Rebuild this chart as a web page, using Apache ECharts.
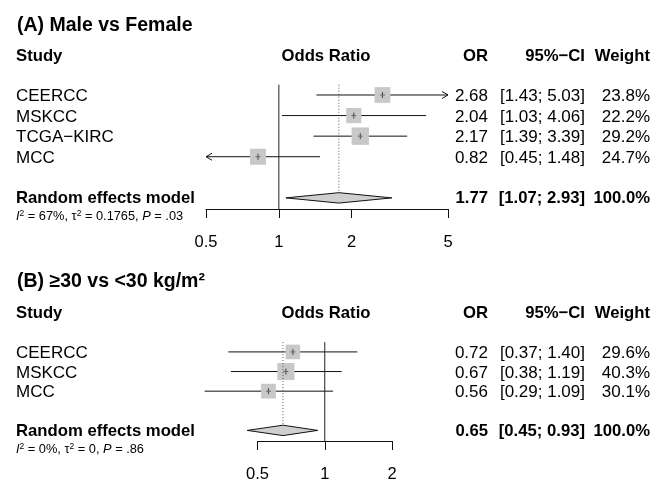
<!DOCTYPE html>
<html><head><meta charset="utf-8">
<script src="https://cdn.jsdelivr.net/npm/echarts@6/dist/echarts.min.js"></script>
<style>html,body{margin:0;padding:0;background:#fff}#c{width:656px;height:483px}</style>
</head><body><div id="c"></div>
<script>
// ---------- data ----------
const titleA = '(A) Male vs Female';
const studiesA = ['CEERCC', 'MSKCC', 'TCGA\u2212KIRC', 'MCC'];
const orA = [2.68, 2.04, 2.17, 0.82];
const lowA = [1.43, 1.03, 1.39, 0.45];
const highA = [5.03, 4.06, 3.39, 1.48];
const weightA = [23.8, 22.2, 29.2, 24.7];
const pooledA = [1.77, 1.07, 2.93];           // OR, lower, upper
const heteroA = ['67%', '0.1765', '.03'];      // I2, tau2, P
const ticksA = [0.5, 1, 2, 5];
const tickLabelsA = ['0.5', '1', '2', '5'];
const xlimA = [0.5, 5];

const titleB = '(B) \u226530 vs <30 kg/m\u00b2';
const studiesB = ['CEERCC', 'MSKCC', 'MCC'];
const orB = [0.72, 0.67, 0.56];
const lowB = [0.37, 0.38, 0.29];
const highB = [1.40, 1.19, 1.09];
const weightB = [29.6, 40.3, 30.1];
const pooledB = [0.65, 0.45, 0.93];
const heteroB = ['0%', '0', '.86'];
const ticksB = [0.5, 1, 2];
const tickLabelsB = ['0.5', '1', '2'];
const xlimB = [0.25, 2.5];

const headers = ['Study', 'Odds Ratio', 'OR', '95%\u2212CI', 'Weight'];
const pooledLabel = 'Random effects model';

// ---------- layout ----------
const FF = '"Liberation Sans", Arial, Helvetica, sans-serif';
const COL_STUDY = 16, COL_OR = 488, COL_CI = 585, COL_W = 650, COL_ODDS = 326;
const fmt2 = v => v.toFixed(2);

function txt(text, x, y, align, size, bold, extra) {
  return Object.assign({
    type: 'text',
    style: {
      text: text, x: x, y: y,
      align: align, textAlign: align,
      verticalAlign: 'middle', textVerticalAlign: 'middle',
      fontSize: size, fontFamily: FF, fontWeight: bold ? 'bold' : 'normal',
      fill: '#000'
    }
  }, extra || {});
}

function makePanel(gi, P) {
  const L = v => Math.log10(v);
  const nRows = P.studies.length;
  const pooledRow = nRows + 2;
  const yMax = pooledRow + 0.54;

  const studySeries = {
    type: 'custom', xAxisIndex: gi, yAxisIndex: gi, clip: false,
    data: P.or.map((v, i) => [L(v), i + 1]),
    renderItem: function (params, api) {
      const i = params.dataIndex;
      const row = api.value(1);
      const c = api.coord([api.value(0), row]);
      const y = c[1];
      const minX = api.coord([L(P.xlim[0]), row])[0];
      const maxX = api.coord([L(P.xlim[1]), row])[0];
      let x1 = api.coord([L(P.low[i]), row])[0];
      let x2 = api.coord([L(P.high[i]), row])[0];
      const arrowL = x1 < minX - 0.5, arrowR = x2 > maxX + 0.5;
      if (arrowL) x1 = minX;
      if (arrowR) x2 = maxX;
      const ch = [];
      ch.push({ type: 'line', shape: { x1: x1, y1: y, x2: x2, y2: y }, style: { stroke: '#111', lineWidth: 1 } });
      if (arrowR) ch.push({ type: 'polyline', shape: { points: [[x2 - 6, y - 3.5], [x2, y], [x2 - 6, y + 3.5]] }, style: { stroke: '#111', fill: null, lineWidth: 1 } });
      if (arrowL) ch.push({ type: 'polyline', shape: { points: [[x1 + 6, y - 3.5], [x1, y], [x1 + 6, y + 3.5]] }, style: { stroke: '#111', fill: null, lineWidth: 1 } });
      const s = P.k * Math.sqrt(P.weight[i]);
      ch.push({ type: 'rect', shape: { x: c[0] - s / 2, y: y - s / 2, width: s, height: s }, style: { fill: '#c8c8c8' } });
      ch.push({ type: 'line', shape: { x1: c[0], y1: y - 3, x2: c[0], y2: y + 3 }, style: { stroke: '#444', lineWidth: 1 } });
      ch.push({ type: 'line', shape: { x1: c[0] - 2.5, y1: y, x2: c[0] + 2.5, y2: y }, style: { stroke: '#666', lineWidth: 1 } });
      const ty = y + 1.5;
      ch.push(txt(P.studies[i], COL_STUDY, ty, 'left', 17, false));
      ch.push(txt(fmt2(P.or[i]), COL_OR, ty, 'right', 17, false));
      ch.push(txt('[' + fmt2(P.low[i]) + '; ' + fmt2(P.high[i]) + ']', COL_CI, ty, 'right', 17, false));
      ch.push(txt(P.weight[i].toFixed(1) + '%', COL_W, ty, 'right', 17, false));
      return { type: 'group', children: ch };
    }
  };

  const pooledSeries = {
    type: 'custom', xAxisIndex: gi, yAxisIndex: gi, clip: false,
    data: [[L(P.pooled[0]), pooledRow]],
    renderItem: function (params, api) {
      const row = api.value(1);
      const c = api.coord([api.value(0), row]);
      const y = c[1];
      const top = api.coord([api.value(0), 0.5])[1];
      const xl = api.coord([L(P.pooled[1]), row])[0];
      const xh = api.coord([L(P.pooled[2]), row])[0];
      const h = 5.2;
      const ch = [];
      // reference line at OR = 1
      const x1 = api.coord([0, row])[0];
      const yb = api.coord([0, yMax])[1];
      ch.push({ type: 'line', shape: { x1: x1, y1: top, x2: x1, y2: yb }, style: { stroke: '#222', lineWidth: 1 } });
      // dotted line at pooled estimate
      ch.push({ type: 'line', shape: { x1: c[0], y1: top, x2: c[0], y2: y - h }, style: { stroke: '#555', lineWidth: 1, lineDash: [1, 2] } });
      ch.push({ type: 'polygon', shape: { points: [[xl, y], [c[0], y - h], [xh, y], [c[0], y + h]] }, style: { fill: '#cfcfcf', stroke: '#111', lineWidth: 1 } });
      const ty = y + 1;
      ch.push(txt(pooledLabel, COL_STUDY, ty, 'left', 16.7, true));
      ch.push(txt(fmt2(P.pooled[0]), COL_OR, ty, 'right', 16.7, true));
      ch.push(txt('[' + fmt2(P.pooled[1]) + '; ' + fmt2(P.pooled[2]) + ']', COL_CI, ty, 'right', 16.7, true));
      ch.push(txt('100.0%', COL_W, ty, 'right', 16.7, true));
      const stats = {
        type: 'text',
        style: {
          text: '{i|I}{s|2}{n| = ' + P.hetero[0] + ', \u03c4}{s|2}{n| = ' + P.hetero[1] + ', }{i|P}{n| = ' + P.hetero[2] + '}',
          x: COL_STUDY, y: y + 19, align: 'left', textAlign: 'left', verticalAlign: 'middle', textVerticalAlign: 'middle',
          rich: {
            n: { fontSize: 12.8, fontFamily: FF, fill: '#000', lineHeight: 15 },
            i: { fontSize: 12.8, fontFamily: FF, fontStyle: 'italic', fill: '#000', lineHeight: 15 },
            s: { fontSize: 8.5, fontFamily: FF, fill: '#000', verticalAlign: 'top', lineHeight: 15 }
          }
        }
      };
      ch.push(stats);
      return { type: 'group', children: ch };
    }
  };

  const xAxis = {
    gridIndex: gi, type: 'value',
    min: L(P.ticks[0]) - 1e-9, max: L(P.ticks[P.ticks.length - 1]) + 1e-9,
    axisLine: { show: true, onZero: false, lineStyle: { color: '#111', width: 1 } },
    axisTick: { show: true, inside: false, length: 9, customValues: P.ticks.map(L), lineStyle: { color: '#111', width: 1 } },
    axisLabel: {
      customValues: P.ticks.map(L), fontSize: 16.5, fontFamily: FF, color: '#000', margin: 25,
      formatter: v => { const j = P.ticks.findIndex(t => Math.abs(L(t) - v) < 1e-6); return j >= 0 ? P.tickLabels[j] : ''; }
    },
    splitLine: { show: false }
  };
  const yAxis = { gridIndex: gi, type: 'value', min: 0.5, max: yMax, inverse: true, show: false, splitLine: { show: false } };
  return { series: [studySeries, pooledSeries], xAxis: xAxis, yAxis: yAxis };
}

const pA = makePanel(0, { studies: studiesA, or: orA, low: lowA, high: highA, weight: weightA, pooled: pooledA, hetero: heteroA, ticks: ticksA, tickLabels: tickLabelsA, xlim: xlimA, k: 3.22 });
const pB = makePanel(1, { studies: studiesB, or: orB, low: lowB, high: highB, weight: weightB, pooled: pooledB, hetero: heteroB, ticks: ticksB, tickLabels: tickLabelsB, xlim: xlimB, k: 2.69 });

function headerRow(y) {
  return [
    txt(headers[0], COL_STUDY, y, 'left', 16.7, true),
    txt(headers[1], COL_ODDS, y, 'center', 16.7, true),
    txt(headers[2], COL_OR, y, 'right', 16.7, true),
    txt(headers[3], COL_CI, y, 'right', 16.7, true),
    txt(headers[4], COL_W, y, 'right', 16.7, true)
  ];
}

const chart = echarts.init(document.getElementById('c'), null, { renderer: 'canvas' });
chart.setOption({
  animation: false,
  backgroundColor: '#fff',
  grid: [
    { left: 206, width: 242, top: 84.7, height: 124.3 },
    { left: 257.5, width: 134.5, top: 342.1, height: 102.6 }
  ],
  xAxis: [pA.xAxis, pB.xAxis],
  yAxis: [pA.yAxis, pB.yAxis],
  series: pA.series.concat(pB.series),
  graphic: [
    txt(titleA, 17, 26, 'left', 19.5, true),
    txt(titleB, 17, 282, 'left', 19.5, true)
  ].concat(headerRow(56), headerRow(313))
});
</script></body></html>
